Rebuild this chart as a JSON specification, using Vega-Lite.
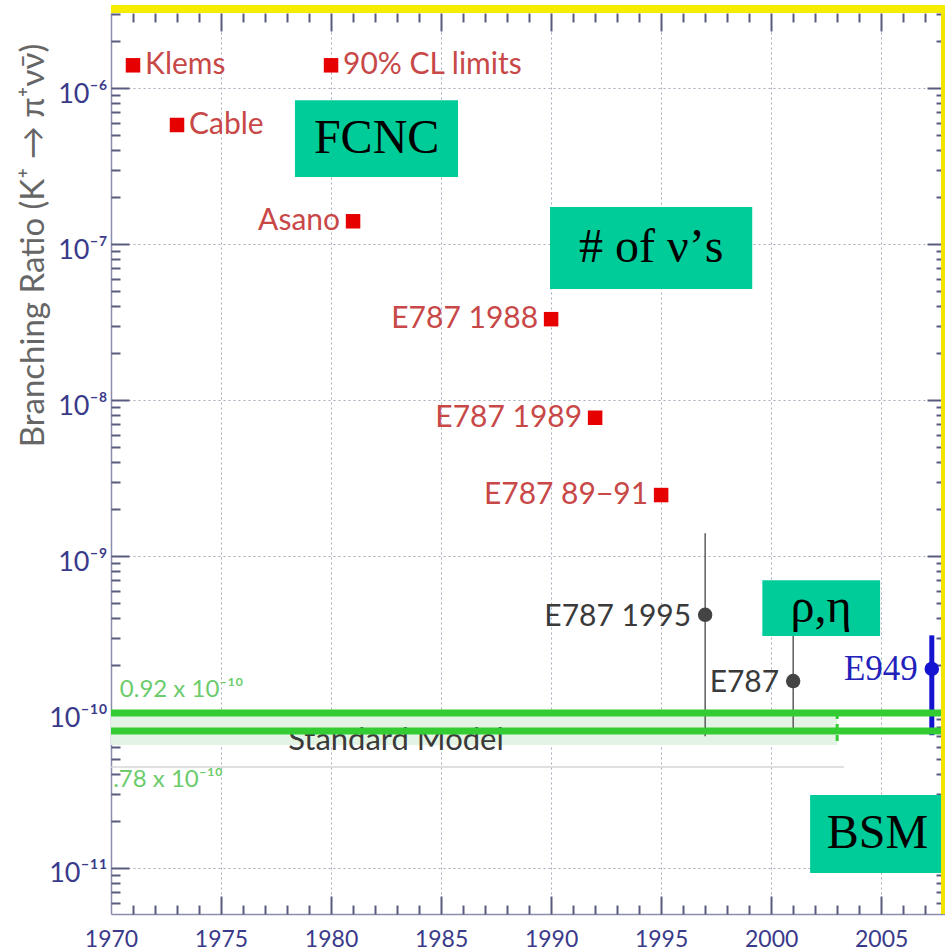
{
  "$schema": "https://vega.github.io/schema/vega-lite/v6.json",
  "width": 834,
  "height": 901,
  "autosize": {"type": "none"},
  "padding": {"left": 111, "top": 13, "right": 0, "bottom": 38},
  "background": "white",
  "config": {
    "view": {"stroke": null},
    "axis": {
      "domainColor": "#8c8cac",
      "domainWidth": 1.5,
      "tickColor": "#5a5a80",
      "labelColor": "#3a3a8a",
      "labelFont": "Lato",
      "gridColor": "#a8a8b8",
      "gridDash": [2, 3],
      "labelOverlap": false,
      "tickWidth": 2,
      "tickCount": 200,
      "title": null
    }
  },
  "datasets": {
    "band": [{"start": 1970, "end": 2003, "upper": 9.85e-11, "lower": 6.14e-11}],
    "smLines": [
      {"start": 1970, "end": 2007.9, "value": 9.85e-11},
      {"start": 1970, "end": 2007.9, "value": 7.55e-11}
    ],
    "smEdge": [{"year": 2003, "upper": 9.85e-11, "lower": 6.14e-11}],
    "smFrame": [{"start": 1970, "end": 2003.3, "value": 4.44e-11}],
    "smText": [{"year": 1978.05, "value": 6.5e-11, "text": "Standard Model"}],
    "smBounds": [
      {"year": 1970.4, "value": 1.38e-10, "text": "0.92 x 10⁻¹⁰"},
      {"year": 1970.1, "value": 3.66e-11, "text": ".78 x 10⁻¹⁰"}
    ],
    "results": [
      {"name": "Klems", "year": 1971, "br": 1.4e-6, "group": "limit", "pos": "right"},
      {"name": "90% CL limits", "year": 1980, "br": 1.4e-6, "group": "limit", "pos": "right"},
      {"name": "Cable", "year": 1973, "br": 5.8e-7, "group": "limit", "pos": "right"},
      {"name": "Asano", "year": 1981, "br": 1.4e-7, "group": "limit", "pos": "left"},
      {"name": "E787 1988", "year": 1990, "br": 3.3e-8, "group": "limit", "pos": "left"},
      {"name": "E787 1989", "year": 1992, "br": 7.7e-9, "group": "limit", "pos": "left"},
      {"name": "E787 89−91", "year": 1995, "br": 2.46e-9, "group": "limit", "pos": "left"},
      {"name": "E787 1995", "year": 1997, "br": 4.2e-10, "lo": 7.0e-11, "hi": 1.4e-9, "group": "E787", "pos": "left"},
      {"name": "E787", "year": 2001, "br": 1.58e-10, "lo": 7.5e-11, "hi": 3.32e-10, "group": "E787", "pos": "left"},
      {"name": "E949", "year": 2007.3, "br": 1.89e-10, "lo": 7.1e-11, "hi": 3.1e-10, "group": "E949", "pos": "left"}
    ],
    "boxes": [
      {"x1": 1978.36, "x2": 1985.77, "y1": 8.37e-7, "y2": 2.69e-7, "xm": 1982.07, "ym": 4.74e-7, "text": "FCNC"},
      {"x1": 1989.95, "x2": 1999.14, "y1": 1.73e-7, "y2": 5.15e-8, "xm": 1994.55, "ym": 9.44e-8, "text": "# of ν’s"},
      {"x1": 1999.6, "x2": 2004.95, "y1": 7.0e-10, "y2": 3.07e-10, "xm": 2002.27, "ym": 4.64e-10, "text": "ρ,η"},
      {"x1": 2001.77, "x2": 2007.9, "y1": 2.94e-11, "y2": 9.3e-12, "xm": 2004.83, "ym": 1.65e-11, "text": "BSM"}
    ],
    "frame": [{"start": 1970, "end": 2007.9, "top": 3.03e-6, "bottom": 5.07e-12}]
  },
  "resolve": {"axis": {"x": "independent", "y": "independent"}},
  "layer": [
    {
      "layer": [
        {
          "data": {"name": "band"},
          "mark": {"type": "rect", "fill": "#e4f4e4"},
          "encoding": {
            "x": {
              "field": "start", "type": "quantitative",
              "scale": {"domain": [1970, 2007.9], "nice": false, "zero": false},
              "axis": {
                "orient": "bottom",
                "title": null,
                "ticks": false,
                "grid": false,
                "values": [1970, 1975, 1980, 1985, 1990, 1995, 2000, 2005],
                "format": "d",
                "labelFontSize": 23,
                "labelFlush": false,
                "labelPadding": 14
              }
            },
            "x2": {"field": "end"},
            "y": {
              "field": "upper", "type": "quantitative",
              "scale": {"type": "log", "domain": [5.07e-12, 3.03e-6], "nice": false},
              "axis": {
                "orient": "left",
                "title": "Branching Ratio (K⁺ → π⁺νν̄)",
                "titleColor": "#666666",
                "titleFont": "Lato",
                "titleFontSize": 33,
                "titleFontWeight": "normal",
                "titleAngle": -90,
                "titleX": -78,
                "titleY": 232,
                "titleAlign": "center",
                "titleBaseline": "middle",
                "ticks": false,
                "grid": false,
                "values": [1e-11, 1e-10, 1e-9, 1e-8, 1e-7, 1e-6],
                "labelExpr": "'10' + replace(replace(replace(replace(replace(replace(replace(toString(round(log(datum.value)/LN10)), '-', '⁻'), '11', '¹¹'), '10', '¹⁰'), '6', '⁶'), '7', '⁷'), '8', '⁸'), '9', '⁹')",
                "labelFontSize": 27,
                "labelPadding": 4,
                "labelOffset": 6,
                "labelBaseline": "middle"
              }
            },
            "y2": {"field": "lower"}
          }
        },
        {
          "data": {"name": "smFrame"},
          "mark": {"type": "rule", "color": "#d6d6d6", "strokeWidth": 1.5},
          "encoding": {
            "x": {"field": "start", "type": "quantitative", "scale": {"domain": [1970, 2007.9], "nice": false, "zero": false}},
            "x2": {"field": "end"},
            "y": {"field": "value", "type": "quantitative", "scale": {"type": "log", "domain": [5.07e-12, 3.03e-6], "nice": false}}
          }
        },
        {
          "data": {"name": "smEdge"},
          "mark": {"type": "rule", "color": "#33cc33", "strokeWidth": 3, "strokeDash": [6, 5]},
          "encoding": {
            "x": {"field": "year", "type": "quantitative", "scale": {"domain": [1970, 2007.9], "nice": false, "zero": false}},
            "y": {"field": "upper", "type": "quantitative", "scale": {"type": "log", "domain": [5.07e-12, 3.03e-6], "nice": false}},
            "y2": {"field": "lower"}
          }
        },
        {
          "data": {"name": "smText"},
          "mark": {"type": "text", "align": "left", "baseline": "middle", "font": "Lato", "fontSize": 31, "color": "#3a3a3a"},
          "encoding": {
            "x": {"field": "year", "type": "quantitative", "scale": {"domain": [1970, 2007.9], "nice": false, "zero": false}},
            "y": {"field": "value", "type": "quantitative", "scale": {"type": "log", "domain": [5.07e-12, 3.03e-6], "nice": false}},
            "text": {"field": "text"}
          }
        },
        {
          "data": {"name": "smBounds"},
          "mark": {"type": "text", "align": "left", "baseline": "middle", "font": "Lato", "fontSize": 24, "color": "#6ccc6c"},
          "encoding": {
            "x": {"field": "year", "type": "quantitative", "scale": {"domain": [1970, 2007.9], "nice": false, "zero": false}},
            "y": {"field": "value", "type": "quantitative", "scale": {"type": "log", "domain": [5.07e-12, 3.03e-6], "nice": false}},
            "text": {"field": "text"}
          }
        },
        {
          "data": {"name": "results"},
          "transform": [{"filter": "isValid(datum.lo)"}],
          "mark": {"type": "rule"},
          "encoding": {
            "x": {"field": "year", "type": "quantitative", "scale": {"domain": [1970, 2007.9], "nice": false, "zero": false}},
            "y": {"field": "lo", "type": "quantitative", "scale": {"type": "log", "domain": [5.07e-12, 3.03e-6], "nice": false}},
            "y2": {"field": "hi"},
            "color": {"field": "group", "type": "nominal", "scale": {"domain": ["limit", "E787", "E949"], "range": ["#e60000", "#444444", "#1414d0"]}, "legend": null},
            "strokeWidth": {"condition": {"test": "datum.group === 'E949'", "value": 5}, "value": 1.3}
          }
        },
        {
          "data": {"name": "smLines"},
          "mark": {"type": "rule", "color": "#33cc33", "strokeWidth": 7},
          "encoding": {
            "x": {"field": "start", "type": "quantitative", "scale": {"domain": [1970, 2007.9], "nice": false, "zero": false}},
            "x2": {"field": "end"},
            "y": {"field": "value", "type": "quantitative", "scale": {"type": "log", "domain": [5.07e-12, 3.03e-6], "nice": false}}
          }
        },
        {
          "data": {"name": "results"},
          "mark": {"type": "point", "filled": true, "opacity": 1, "size": 210},
          "encoding": {
            "x": {"field": "year", "type": "quantitative", "scale": {"domain": [1970, 2007.9], "nice": false, "zero": false}},
            "y": {"field": "br", "type": "quantitative", "scale": {"type": "log", "domain": [5.07e-12, 3.03e-6], "nice": false}},
            "color": {"field": "group", "type": "nominal", "scale": {"domain": ["limit", "E787", "E949"], "range": ["#e60000", "#111111", "#1414d0"]}, "legend": null},
            "shape": {"field": "group", "type": "nominal", "scale": {"domain": ["limit", "E787", "E949"], "range": ["square", "circle", "circle"]}, "legend": null}
          }
        },
        {
          "data": {"name": "results"},
          "transform": [{"filter": "datum.pos === 'right'"}],
          "mark": {"type": "text", "align": "left", "baseline": "middle", "dx": 12, "font": "Lato", "fontSize": 30, "color": "#c84848"},
          "encoding": {
            "x": {"field": "year", "type": "quantitative", "scale": {"domain": [1970, 2007.9], "nice": false, "zero": false}},
            "y": {"field": "br", "type": "quantitative", "scale": {"type": "log", "domain": [5.07e-12, 3.03e-6], "nice": false}},
            "text": {"field": "name"}
          }
        },
        {
          "data": {"name": "results"},
          "transform": [{"filter": "datum.pos === 'left' && datum.group === 'limit'"}],
          "mark": {"type": "text", "align": "right", "baseline": "middle", "dx": -13, "font": "Lato", "fontSize": 30, "color": "#c84848"},
          "encoding": {
            "x": {"field": "year", "type": "quantitative", "scale": {"domain": [1970, 2007.9], "nice": false, "zero": false}},
            "y": {"field": "br", "type": "quantitative", "scale": {"type": "log", "domain": [5.07e-12, 3.03e-6], "nice": false}},
            "text": {"field": "name"}
          }
        },
        {
          "data": {"name": "results"},
          "transform": [{"filter": "datum.group === 'E787'"}],
          "mark": {"type": "text", "align": "right", "baseline": "middle", "dx": -14, "dy": 2, "font": "Lato", "fontSize": 30, "color": "#3a3a3a"},
          "encoding": {
            "x": {"field": "year", "type": "quantitative", "scale": {"domain": [1970, 2007.9], "nice": false, "zero": false}},
            "y": {"field": "br", "type": "quantitative", "scale": {"type": "log", "domain": [5.07e-12, 3.03e-6], "nice": false}},
            "text": {"field": "name"}
          }
        },
        {
          "data": {"name": "results"},
          "transform": [{"filter": "datum.group === 'E949'"}],
          "mark": {"type": "text", "align": "right", "baseline": "middle", "dx": -14, "font": "Liberation Serif", "fontSize": 35, "color": "#2222bb"},
          "encoding": {
            "x": {"field": "year", "type": "quantitative", "scale": {"domain": [1970, 2007.9], "nice": false, "zero": false}},
            "y": {"field": "br", "type": "quantitative", "scale": {"type": "log", "domain": [5.07e-12, 3.03e-6], "nice": false}},
            "text": {"field": "name"}
          }
        },
        {
          "data": {"name": "boxes"},
          "mark": {"type": "rect", "fill": "#00cc99"},
          "encoding": {
            "x": {"field": "x1", "type": "quantitative", "scale": {"domain": [1970, 2007.9], "nice": false, "zero": false}},
            "x2": {"field": "x2"},
            "y": {"field": "y1", "type": "quantitative", "scale": {"type": "log", "domain": [5.07e-12, 3.03e-6], "nice": false}},
            "y2": {"field": "y2"}
          }
        },
        {
          "data": {"name": "boxes"},
          "mark": {"type": "text", "align": "center", "baseline": "middle", "font": "Liberation Serif", "fontSize": 48, "color": "#000000"},
          "encoding": {
            "x": {"field": "xm", "type": "quantitative", "scale": {"domain": [1970, 2007.9], "nice": false, "zero": false}},
            "y": {"field": "ym", "type": "quantitative", "scale": {"type": "log", "domain": [5.07e-12, 3.03e-6], "nice": false}},
            "text": {"field": "text"}
          }
        },
        {
          "data": {"name": "frame"},
          "mark": {"type": "rule", "color": "#f0e400", "strokeWidth": 4, "xOffset": -2},
          "encoding": {
            "x": {"field": "end", "type": "quantitative", "scale": {"domain": [1970, 2007.9], "nice": false, "zero": false}},
            "y": {"field": "top", "type": "quantitative", "scale": {"type": "log", "domain": [5.07e-12, 3.03e-6], "nice": false}},
            "y2": {"field": "bottom"}
          }
        }
      ]
    },
    {
      "data": {"name": "frame"},
      "mark": {"type": "rule", "color": "#f5ec00", "strokeWidth": 8, "yOffset": -4},
      "encoding": {
        "x": {
          "field": "start", "type": "quantitative",
          "scale": {"domain": [1970, 2007.9], "nice": false, "zero": false},
          "axis": {"orient": "top", "labels": false, "domain": false, "ticks": false, "grid": true, "values": [1975, 1980, 1985, 1990, 1995, 2000, 2005]}
        },
        "x2": {"field": "end"},
        "y": {
          "field": "top", "type": "quantitative",
          "scale": {"type": "log", "domain": [5.07e-12, 3.03e-6], "nice": false},
          "axis": {"orient": "right", "labels": false, "domain": false, "ticks": false, "grid": true, "values": [1e-11, 1e-10, 1e-9, 1e-8, 1e-7, 1e-6]}
        }
      }
    },
    {
      "data": {"name": "frame"},
      "mark": {"type": "rule", "opacity": 0},
      "encoding": {
        "x": {
          "field": "start", "type": "quantitative",
          "scale": {"domain": [1970, 2007.9], "nice": false, "zero": false},
          "axis": {"orient": "bottom", "labels": false, "domain": false, "grid": false, "offset": -18, "tickSize": 18, "values": [1975, 1980, 1985, 1990, 1995, 2000, 2005]}
        },
        "x2": {"field": "end"},
        "y": {
          "field": "top", "type": "quantitative",
          "scale": {"type": "log", "domain": [5.07e-12, 3.03e-6], "nice": false},
          "axis": {"orient": "left", "labels": false, "domain": false, "grid": false, "offset": -18, "tickSize": 18, "values": [1e-11, 1e-10, 1e-9, 1e-8, 1e-7, 1e-6]}
        }
      }
    },
    {
      "data": {"name": "frame"},
      "mark": {"type": "rule", "opacity": 0},
      "encoding": {
        "x": {
          "field": "start", "type": "quantitative",
          "scale": {"domain": [1970, 2007.9], "nice": false, "zero": false},
          "axis": {"orient": "bottom", "labels": false, "domain": false, "grid": false, "offset": -9, "tickSize": 9, "values": [1971,1972,1973,1974,1976,1977,1978,1979,1981,1982,1983,1984,1986,1987,1988,1989,1991,1992,1993,1994,1996,1997,1998,1999,2001,2002,2003,2004,2006,2007]}
        },
        "x2": {"field": "end"},
        "y": {
          "field": "top", "type": "quantitative",
          "scale": {"type": "log", "domain": [5.07e-12, 3.03e-6], "nice": false},
          "axis": {"orient": "left", "labels": false, "domain": false, "grid": false, "offset": -9, "tickSize": 9, "values": [6e-12,7e-12,8e-12,9e-12,2e-11,3e-11,4e-11,5e-11,6e-11,7e-11,8e-11,9e-11,2e-10,3e-10,4e-10,5e-10,6e-10,7e-10,8e-10,9e-10,2e-9,3e-9,4e-9,5e-9,6e-9,7e-9,8e-9,9e-9,2e-8,3e-8,4e-8,5e-8,6e-8,7e-8,8e-8,9e-8,2e-7,3e-7,4e-7,5e-7,6e-7,7e-7,8e-7,9e-7,2e-6,3e-6]}
        }
      }
    },
    {
      "data": {"name": "frame"},
      "mark": {"type": "rule", "opacity": 0},
      "encoding": {
        "x": {
          "field": "start", "type": "quantitative",
          "scale": {"domain": [1970, 2007.9], "nice": false, "zero": false},
          "axis": {"orient": "top", "labels": false, "domain": false, "grid": false, "offset": -18, "tickSize": 18, "values": [1975, 1980, 1985, 1990, 1995, 2000, 2005]}
        },
        "x2": {"field": "end"},
        "y": {
          "field": "top", "type": "quantitative",
          "scale": {"type": "log", "domain": [5.07e-12, 3.03e-6], "nice": false},
          "axis": {"orient": "right", "labels": false, "domain": false, "grid": false, "offset": -18, "tickSize": 18, "values": [1e-11, 1e-10, 1e-9, 1e-8, 1e-7, 1e-6]}
        }
      }
    },
    {
      "data": {"name": "frame"},
      "mark": {"type": "rule", "opacity": 0},
      "encoding": {
        "x": {
          "field": "start", "type": "quantitative",
          "scale": {"domain": [1970, 2007.9], "nice": false, "zero": false},
          "axis": {"orient": "top", "labels": false, "domain": false, "grid": false, "offset": -9, "tickSize": 9, "values": [1971,1972,1973,1974,1976,1977,1978,1979,1981,1982,1983,1984,1986,1987,1988,1989,1991,1992,1993,1994,1996,1997,1998,1999,2001,2002,2003,2004,2006,2007]}
        },
        "x2": {"field": "end"},
        "y": {
          "field": "top", "type": "quantitative",
          "scale": {"type": "log", "domain": [5.07e-12, 3.03e-6], "nice": false},
          "axis": {"orient": "right", "labels": false, "domain": false, "grid": false, "offset": -9, "tickSize": 9, "values": [6e-12,7e-12,8e-12,9e-12,2e-11,3e-11,4e-11,5e-11,6e-11,7e-11,8e-11,9e-11,2e-10,3e-10,4e-10,5e-10,6e-10,7e-10,8e-10,9e-10,2e-9,3e-9,4e-9,5e-9,6e-9,7e-9,8e-9,9e-9,2e-8,3e-8,4e-8,5e-8,6e-8,7e-8,8e-8,9e-8,2e-7,3e-7,4e-7,5e-7,6e-7,7e-7,8e-7,9e-7,2e-6,3e-6]}
        }
      }
    }
  ]
}
